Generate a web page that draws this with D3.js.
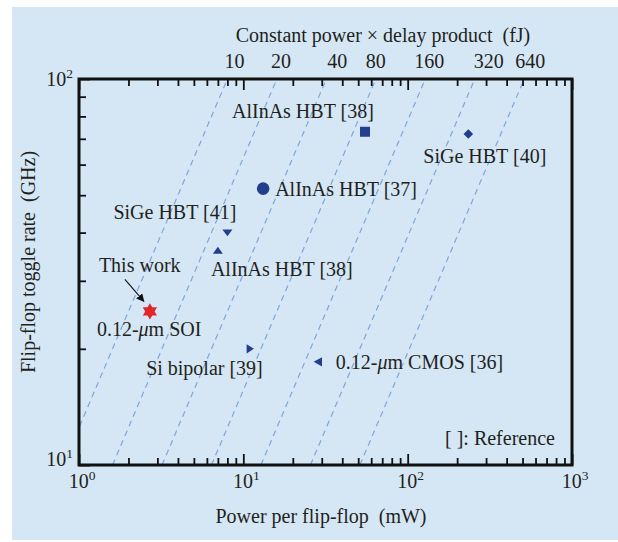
<!DOCTYPE html>
<html>
<head>
<meta charset="utf-8">
<script src="https://cdn.jsdelivr.net/npm/d3@7"></script>
<style>
  body { margin: 0; background: #ffffff; }
  svg { display: block; }
  text { font-family: "Liberation Serif", "Times New Roman", serif; fill: #231f20; white-space: pre; }
</style>
</head>
<body>
<svg id="chart" width="618" height="542"></svg>
<script>
// Flip-flop toggle rate versus power per flip-flop, with constant
// power-delay-product guide lines.
const devices    = ["This work", "AlInAs HBT [38]", "SiGe HBT [40]", "AlInAs HBT [37]",
                    "SiGe HBT [41]", "AlInAs HBT [38]", "Si bipolar [39]", "0.12-µm CMOS [36]"];
const powerMw    = [2.7, 55, 234, 13.2, 8.0, 7.0, 11.0, 28.4];
const toggleGHz  = [25, 73, 72, 52, 40, 36, 20, 18.5];
const markerKind = ["star", "square", "diamond", "circle", "down", "up", "right", "left"];
const pdpFJ      = [10, 20, 40, 80, 160, 320, 640];
const xTickExps  = [0, 1, 2, 3];
const yTickExps  = [1, 2];
const pdpTitle   = "Constant power × delay product  (fJ)";
const xTitle     = "Power per flip-flop  (mW)";
const yTitle     = "Flip-flop toggle rate  (GHz)";
const refNote    = "[ ]: Reference";
const socLabel   = "0.12-µm SOI";

// eight gate delays per toggle period: P[mW] = 8 · PDP[fJ] · f[GHz] · 1e-3
const delaysPerCycle = 8;
const pdpPower = (pdp, f) => delaysPerCycle * pdp * f * 1e-3;

const svg = d3.select("#chart");
const W = 618, H = 542;
const plot = { left: 79, right: 572, top: 79, bottom: 465 };

svg.append("rect").attr("x", 12).attr("y", 7).attr("width", W - 12).attr("height", H - 9)
  .attr("fill", "#d5e7f5");

const x = d3.scaleLog().domain([1, 1000]).range([plot.left, plot.right]);
const y = d3.scaleLog().domain([10, 100]).range([plot.bottom, plot.top]);

svg.append("defs").append("clipPath").attr("id", "plotClip")
  .append("rect").attr("x", plot.left).attr("y", plot.top)
  .attr("width", plot.right - plot.left).attr("height", plot.bottom - plot.top);

// constant power-delay-product guide lines
const fRange = y.domain();
svg.append("g").attr("clip-path", "url(#plotClip)")
  .selectAll("line").data(pdpFJ).join("line")
  .attr("x1", d => x(pdpPower(d, fRange[0]))).attr("y1", y(fRange[0]))
  .attr("x2", d => x(pdpPower(d, fRange[1]))).attr("y2", y(fRange[1]))
  .attr("stroke", "#7ea6dd").attr("stroke-width", 1.2)
  .attr("stroke-dasharray", "6,4.5");

// axes with inward ticks; decades get longer ticks
const minor = 7, major = 11;
function styleAxis(g, isMajor, dir) {
  g.select(".domain").remove();
  g.selectAll(".tick line").attr("stroke", "#111").attr("stroke-width", 1.8);
  g.selectAll(".tick").filter(d => isMajor(d)).select("line")
    .attr(dir, function () { return +d3.select(this).attr(dir) / minor * major; });
}
const isDecade = d => Math.abs(Math.log10(d) - Math.round(Math.log10(d))) < 1e-9;

svg.append("g").attr("transform", `translate(0,${plot.bottom})`)
  .call(d3.axisBottom(x).tickSize(-minor).tickFormat(""))
  .call(g => styleAxis(g, isDecade, "y2"));
svg.append("g").attr("transform", `translate(0,${plot.top})`)
  .call(d3.axisTop(x).tickSize(-minor).tickFormat(""))
  .call(g => styleAxis(g, isDecade, "y2"));
svg.append("g").attr("transform", `translate(${plot.left},0)`)
  .call(d3.axisLeft(y).tickSize(-minor).tickFormat(""))
  .call(g => styleAxis(g, isDecade, "x2"));

svg.append("rect").attr("x", plot.left).attr("y", plot.top)
  .attr("width", plot.right - plot.left).attr("height", plot.bottom - plot.top)
  .attr("fill", "none").attr("stroke", "#111").attr("stroke-width", 3);

const FS = 20, SUP = 13.5;
function powerLabel(sel, exp) {
  sel.append("tspan").text("10");
  sel.append("tspan").attr("font-size", SUP).attr("dy", -8).text(exp);
}
// bottom decade labels
xTickExps.forEach(e => {
  svg.append("text").attr("x", x(Math.pow(10, e)) + 3).attr("y", plot.bottom + 23)
    .attr("text-anchor", "middle").attr("font-size", FS)
    .call(t => powerLabel(t, e));
});
// left decade labels
const yLabelDrop = [1, 7];
yTickExps.forEach((e, i) => {
  svg.append("text").attr("x", plot.left - 6).attr("y", y(Math.pow(10, e)) + yLabelDrop[i])
    .attr("text-anchor", "end").attr("font-size", FS)
    .call(t => powerLabel(t, e));
});

// PDP values along the top edge
const pdpLabelNudge = [7, 4, 11, 0, 4, 14, 6];
svg.append("g").selectAll("text").data(pdpFJ).join("text")
  .attr("x", (d, i) => x(pdpPower(d, fRange[1])) + pdpLabelNudge[i])
  .attr("y", plot.top - 11)
  .attr("text-anchor", "middle").attr("font-size", FS)
  .text(d => d);

svg.append("text").attr("x", 383).attr("y", 42).attr("text-anchor", "middle")
  .attr("font-size", FS).text(pdpTitle);
svg.append("text").attr("x", 321).attr("y", 523).attr("text-anchor", "middle")
  .attr("font-size", FS).text(xTitle);
svg.append("text").attr("transform", "translate(35,262) rotate(-90)")
  .attr("text-anchor", "middle").attr("font-size", FS).text(yTitle);

// marker shapes
function shapePath(kind) {
  const p = d3.path();
  const poly = pts => { p.moveTo(pts[0][0], pts[0][1]); pts.slice(1).forEach(q => p.lineTo(q[0], q[1])); p.closePath(); };
  switch (kind) {
    case "square":  poly([[-5, -5], [5, -5], [5, 5], [-5, 5]]); break;
    case "diamond": poly([[0, -4.8], [4.8, 0], [0, 4.8], [-4.8, 0]]); break;
    case "circle":  p.arc(0, 0, 6.3, 0, 2 * Math.PI); break;
    case "down":    poly([[-5, -3.2], [5, -3.2], [0, 3.6]]); break;
    case "up":      poly([[-5, 3.4], [5, 3.4], [0, -3.6]]); break;
    case "right":   poly([[-3.5, -4.6], [-3.5, 4.6], [3.8, 0]]); break;
    case "left":    poly([[4.2, -4.6], [4.2, 4.6], [-4.2, 0]]); break;
    case "star": {
      const pts = d3.range(12).map(k => {
        const r = k % 2 === 0 ? 8.2 : 4.7, a = -Math.PI / 2 + k * Math.PI / 6;
        return [r * Math.cos(a), r * Math.sin(a)];
      });
      poly(pts); break;
    }
  }
  return p.toString();
}

svg.append("g").selectAll("path").data(devices).join("path")
  .attr("transform", (d, i) => `translate(${x(powerMw[i])},${y(toggleGHz[i])})`)
  .attr("d", (d, i) => shapePath(markerKind[i]))
  .attr("fill", (d, i) => markerKind[i] === "star" ? "#e2242b" : "#213e8f");

// text labels, placed relative to their markers
const labelOffset = [[-51, -39], [-133, -14], [-45, 29], [12, 7], [-114, -14],
                     [-7, 26], [-104, 26], [18, 7]];
function richText(sel, str) {
  str.split("µ").forEach((part, k) => {
    if (k > 0) sel.append("tspan").attr("font-style", "italic").text("μ");
    if (part) sel.append("tspan").text(part);
  });
}
devices.forEach((name, i) => {
  svg.append("text")
    .attr("x", x(powerMw[i]) + labelOffset[i][0])
    .attr("y", y(toggleGHz[i]) + labelOffset[i][1])
    .attr("font-size", FS).call(t => richText(t, name));
});
svg.append("text").attr("x", x(powerMw[0]) - 53).attr("y", y(toggleGHz[0]) + 25)
  .attr("font-size", FS).call(t => richText(t, socLabel));
svg.append("text").attr("x", 445).attr("y", 445).attr("font-size", FS).text(refNote);

// arrow pointing at this work
svg.select("defs").append("marker").attr("id", "arrowHead")
  .attr("viewBox", "0 0 10 10").attr("refX", 9).attr("refY", 5)
  .attr("markerWidth", 8).attr("markerHeight", 8).attr("orient", "auto")
  .attr("markerUnits", "userSpaceOnUse")
  .append("path").attr("d", "M0,0 L10,5 L0,10 Z").attr("fill", "#111");
svg.append("line")
  .attr("x1", x(powerMw[0]) - 25).attr("y1", y(toggleGHz[0]) - 32)
  .attr("x2", x(powerMw[0]) - 6).attr("y2", y(toggleGHz[0]) - 10)
  .attr("stroke", "#111").attr("stroke-width", 1.1)
  .attr("marker-end", "url(#arrowHead)");
</script>
</body>
</html>
